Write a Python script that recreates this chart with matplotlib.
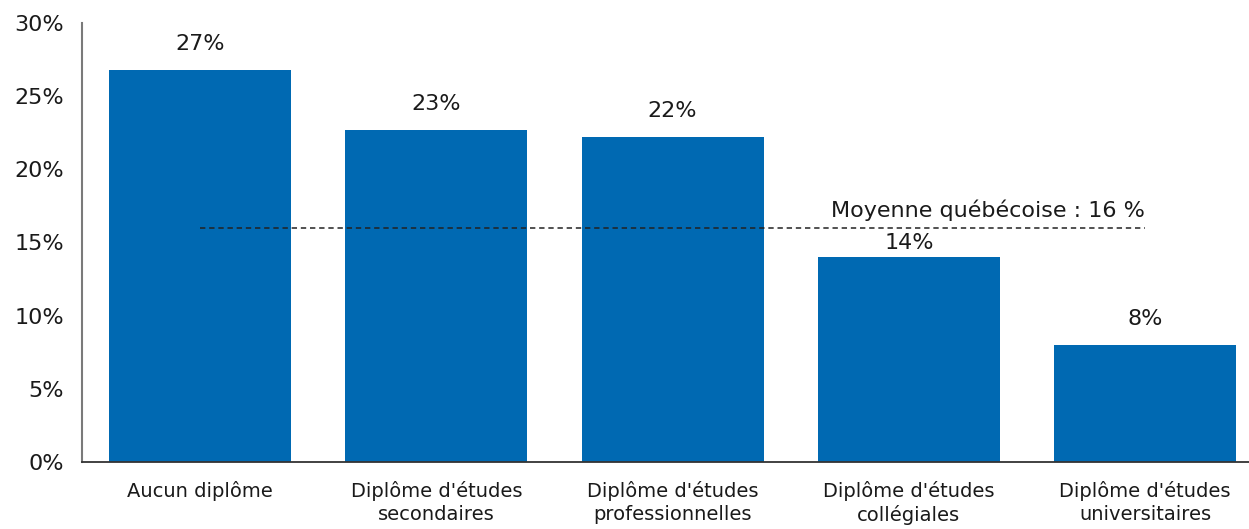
import matplotlib
matplotlib.use('Agg')
import matplotlib.pyplot as plt
from matplotlib.ticker import FuncFormatter

# ── Data ──────────────────────────────────────────────────────────────────────
CATEGORIES = [
	'Aucun diplôme',
	"Diplôme d'études\nsecondaires",
	"Diplôme d'études\nprofessionnelles",
	"Diplôme d'études\ncollégiales",
	"Diplôme d'études\nuniversitaires",
]
VALUES = [26.8, 22.7, 22.2, 14.0, 8.0]
AVERAGE = 16
AVERAGE_LABEL = 'Moyenne québécoise : 16 %'
Y_TICKS = [0, 5, 10, 15, 20, 25, 30]

# ── Style ─────────────────────────────────────────────────────────────────────
C_BAR = '#0069B2'
C_TEXT = '#1a1a1a'
plt.rcParams['font.family'] = ['DejaVu Sans']
FS_CAT = 14
FS_NUM = 16

fig = plt.figure(figsize=(12.49, 5.29), dpi=100, facecolor='white')
ax = fig.add_axes([82 / 1249, 67 / 529, 1 - 82 / 1249, 439 / 529])

x = list(range(len(CATEGORIES)))
bars = ax.bar(x, VALUES, width=0.77, color=C_BAR, zorder=2)

# value labels; the 14% one sits lower to keep clear of the average line
for i, (b, v) in enumerate(zip(bars, VALUES)):
	pad = 0.3 if v < AVERAGE and v > AVERAGE - 4 else 1.1
	ax.text(b.get_x() + b.get_width() / 2, v + pad, f'{v:.0f}%',
		ha='center', va='bottom', fontsize=FS_NUM, color=C_TEXT)

# provincial average
ax.plot([x[0], x[-1]], [AVERAGE, AVERAGE], color='#222222', lw=1.1,
	linestyle=(0, (3.5, 2.5)), zorder=3)
ax.text(x[-1], AVERAGE + 0.45, AVERAGE_LABEL, ha='right', va='bottom',
	fontsize=FS_NUM, color=C_TEXT)

ax.set_xlim(-0.5, 4.44)
ax.set_ylim(0, 30)
ax.set_yticks(Y_TICKS)
ax.yaxis.set_major_formatter(FuncFormatter(lambda v, _: f'{v:.0f}%'))
ax.set_xticks(x)
ax.set_xticklabels(CATEGORIES, fontsize=FS_CAT, color=C_TEXT, linespacing=1.25)
ax.tick_params(axis='y', labelsize=FS_NUM, colors=C_TEXT, length=0, pad=13)
ax.tick_params(axis='x', length=0, pad=14)

for s in ['top', 'right']:
	ax.spines[s].set_visible(False)
ax.spines['left'].set_color('#7a7a7a')
ax.spines['left'].set_linewidth(1.5)
ax.spines['bottom'].set_color('#333333')
ax.spines['bottom'].set_linewidth(1.3)

fig.savefig('out.png', dpi=100, facecolor='white')
